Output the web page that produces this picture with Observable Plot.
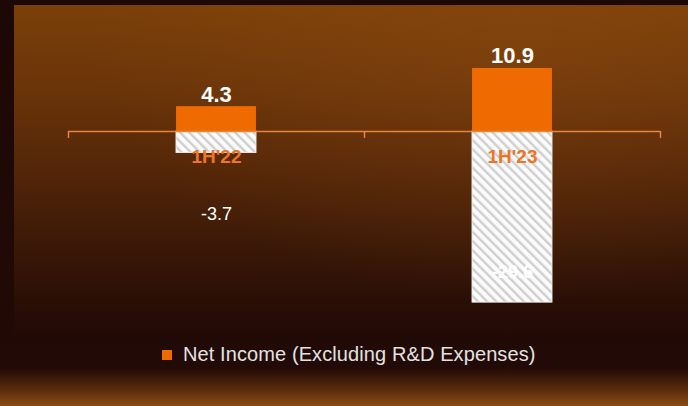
<!DOCTYPE html>
<html>
<head>
<meta charset="utf-8">
<script src="https://cdn.jsdelivr.net/npm/d3@7"></script>
<script src="https://cdn.jsdelivr.net/npm/@observablehq/plot@0.6"></script>
<style>
  html, body { margin: 0; padding: 0; background: #1c0805; }
  #wrap {
    position: relative; width: 688px; height: 406px; overflow: hidden;
    background: linear-gradient(to bottom, #1c0805 0px, #220a06 368px, #5a2c0a 390px, #8a4a12 406px);
    font-family: "Liberation Sans", Arial, sans-serif;
  }
  #panel {
    position: absolute; left: 14px; top: 5px; width: 674px; height: 338px;
    background:
      radial-gradient(ellipse at 75% 10%, rgba(150,80,20,0.35), rgba(0,0,0,0) 60%),
      linear-gradient(to bottom, #7b4009 0%, #6a3409 25%, #522508 50%, #3a1807 72%, #260c06 92%, #200a06 100%);
  }
  #chart { position: absolute; left: 0; top: 0; }
  #legend {
    position: absolute; top: 343px; left: 162px; color: #e2e2e2; font-size: 20px;
    display: flex; align-items: center; white-space: nowrap; letter-spacing: 0.1px;
  }
  #legend .sw { width: 10px; height: 10px; background: #ef6a00; margin-right: 11px; }
</style>
</head>
<body>
<div id="wrap">
  <div id="panel"></div>
  <div id="chart"></div>
  <div id="legend"><span class="sw"></span><span id="legendText"></span></div>
</div>
<script>
const categories = ["1H'22", "1H'23"];
const netIncome = [4.3, 10.9];
const negativePart = [-3.7, -29.6];
const posLabels = ["4.3", "10.9"];
const negLabels = ["-3.7", "-29.6"];
const legendLabel = "Net Income (Excluding R&D Expenses)";

const rows = categories.map((c, i) => ({
  i, cat: c, pos: netIncome[i], neg: negativePart[i], posLabel: posLabels[i], negLabel: negLabels[i]
}));
const boundaries = d3.range(categories.length + 1).map(k => k - 0.5);
const half = 0.135;
const orange = "#ef6a00";
const axisColor = "#e8873c";
const font = "Liberation Sans, Arial, sans-serif";

const chart = Plot.plot({
  width: 688,
  height: 340,
  marginLeft: 68,
  marginRight: 28,
  marginTop: 44.3,
  marginBottom: 6.7,
  style: { background: "transparent", fontFamily: font, overflow: "visible" },
  x: { type: "linear", domain: [-0.5, categories.length - 0.5], axis: null },
  y: { domain: [-35, 15], axis: null },
  marks: [
    Plot.rectY(rows, { x1: d => d.i - half, x2: d => d.i + half, y1: 0, y2: "neg", fill: "url(#hatch)", stroke: "#f2f2f2", strokeWidth: 1 }),
    Plot.rectY(rows, { x1: d => d.i - half, x2: d => d.i + half, y1: 0, y2: "pos", fill: orange }),
    Plot.ruleY([0], { stroke: axisColor, strokeWidth: 1.5 }),
    Plot.ruleX(boundaries, { x: d => d, y1: 0, y2: -1.2, stroke: axisColor, strokeWidth: 1.5 }),
    Plot.text(rows, { x: "i", y: "pos", text: "posLabel", lineAnchor: "bottom", dy: -5, fill: "white", fontSize: 22, fontWeight: "bold" }),
    Plot.text(rows, { x: "i", y: 0, text: "cat", dy: 25, fill: "#ee7426", fontSize: 19, fontWeight: "bold" }),
    Plot.text(rows.filter(d => d.i === 0), { x: "i", y: "neg", text: "negLabel", dy: 61, fill: "white", fontSize: 18 }),
    Plot.text(rows.filter(d => d.i === 1), { x: "i", y: "neg", text: "negLabel", dy: -30, fill: "#ffffff", fontSize: 18, fontWeight: "bold" })
  ]
});

const defs = d3.select(chart).insert("defs", ":first-child");
const pat = defs.append("pattern")
  .attr("id", "hatch")
  .attr("patternUnits", "userSpaceOnUse")
  .attr("width", 6.5).attr("height", 6.5)
  .attr("patternTransform", "rotate(-45)");
pat.append("rect").attr("width", 6.5).attr("height", 6.5).attr("fill", "#fbfbfb");
pat.append("rect").attr("width", 2.4).attr("height", 6.5).attr("fill", "#cfcfcf");

document.getElementById("chart").appendChild(chart);
document.getElementById("legendText").textContent = legendLabel;
</script>
</body>
</html>
